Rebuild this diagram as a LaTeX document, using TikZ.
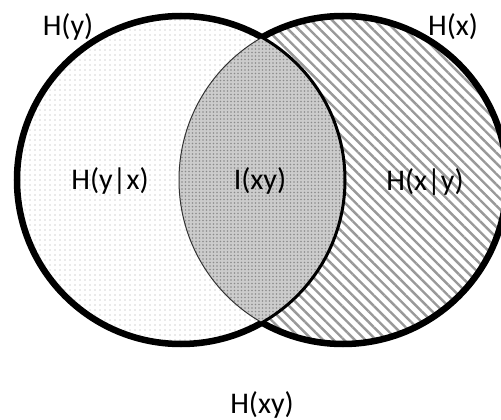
\documentclass[tikz,border=0pt]{standalone}
\usepackage{fontspec}
\setmainfont{Carlito}
\usetikzlibrary{patterns.meta}
\begin{document}
\begin{tikzpicture}[x=1pt,y=-1pt,
  lbl/.style={font=\fontsize{30}{34}\selectfont, text=black, inner sep=0pt},
  outerring/.style={line width=6.5pt, draw=black}]
\useasboundingbox (0,0) rectangle (501,420);
\clip (0,0) rectangle (501,420);
\coordinate (cy) at (181,180);
\coordinate (cx) at (343,180);
% left circle fill
\fill[white] (cy) circle (164);
\fill[pattern={Dots[radius=0.6pt,distance=5pt]}, pattern color=black!35] (cy) circle (164);
% right circle fill
\fill[white] (cx) circle (164);
\fill[pattern={Lines[angle=-45,distance=7.5pt,line width=2.4pt]}, pattern color=black!40] (cx) circle (164);
% lens
\begin{scope}
  \clip (cy) circle (164);
  \fill[black!20] (cx) circle (164);
  \fill[pattern={Dots[radius=0.8pt,distance=3.5pt]}, pattern color=black!45] (cx) circle (164);
  \draw[line width=1pt, black!80] (cx) circle (164);
\end{scope}
\begin{scope}
  \clip (cx) circle (164);
  \draw[line width=3pt] (cy) circle (164);
\end{scope}
% outer rings (outside other circle)
\begin{scope}[even odd rule]
  \clip (-10,-10) rectangle (511,430) (cx) circle (164);
  \draw[outerring] (cy) circle (164);
\end{scope}
\begin{scope}[even odd rule]
  \clip (-10,-10) rectangle (511,430) (cy) circle (164);
  \draw[outerring] (cx) circle (164);
\end{scope}
\node[lbl] (hy) at (68,27) {H(y)};
\node[lbl] (hx) at (453,27) {H(x)};
\node[lbl] (hyx) at (110,181) {H(y|x)};
\node[lbl] (ixy) at (260,181) {I(xy)};
\node[lbl] (hxy) at (425,182) {H(x|y)};
\node[lbl] (hjoint) at (262,405) {H(xy)};
\end{tikzpicture}
\end{document}
